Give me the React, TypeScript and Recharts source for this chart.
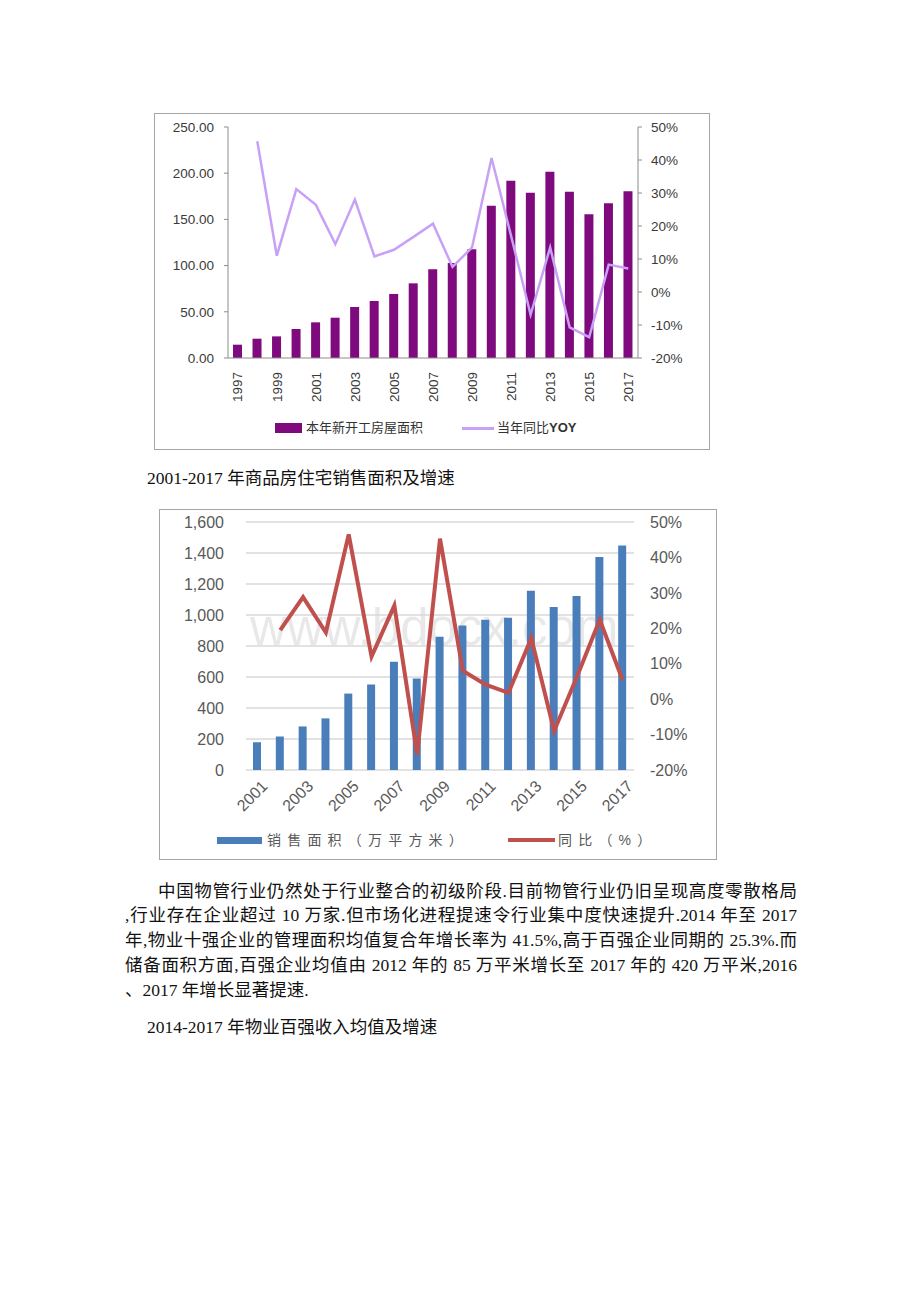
import { ComposedChart, Bar, Line, XAxis, YAxis, CartesianGrid, Legend } from 'recharts';

// chart 1: 本年新开工房屋面积 / 当年同比YOY
const years1 = ['1997', '1998', '1999', '2000', '2001', '2002', '2003', '2004', '2005', '2006', '2007',
  '2008', '2009', '2010', '2011', '2012', '2013', '2014', '2015', '2016', '2017'];
const newStartArea = [14.4, 20.9, 23.4, 31.4, 38.6, 43.6, 55.2, 61.7, 69.3, 80.8, 96.0,
  102.8, 117.6, 164.9, 191.9, 178.9, 201.7, 180.0, 155.5, 167.4, 180.4];
const newStartYoy = [null, 45.7, 11.0, 31.2, 26.4, 14.5, 28.0, 10.8, 12.8, 16.7, 20.7,
  7.6, 13.5, 40.6, 17.0, -6.9, 13.5, -10.7, -13.7, 8.3, 7.1];
const leftTicks1 = [0, 50, 100, 150, 200, 250];
const pctTicks = [-20, -10, 0, 10, 20, 30, 40, 50];

// chart 2: 销售面积（万平方米） / 同比（%）
const years2 = ['2001', '2002', '2003', '2004', '2005', '2006', '2007', '2008', '2009',
  '2010', '2011', '2012', '2013', '2014', '2015', '2016', '2017'];
const salesArea = [179, 216, 281, 333, 493, 551, 698, 590, 860, 932, 969, 982, 1157, 1051, 1122, 1375, 1449];
const salesYoy = [null, 19.5, 28.8, 18.8, 46.5, 12.0, 26.4, -15.6, 45.3, 8.0, 4.1, 1.8, 17.2, -9.0, 6.3, 22.4, 5.4];
const leftTicks2 = [0, 200, 400, 600, 800, 1000, 1200, 1400, 1600];

const data1 = years1.map((y, i) => ({ year: y, area: newStartArea[i], yoy: newStartYoy[i] }));
const data2 = years2.map((y, i) => ({ year: y, area: salesArea[i], yoy: salesYoy[i] }));

const PURPLE = '#7e0a7e';
const LAVENDER = '#c9a0f7';
const BLUE = '#4a7ebb';
const RED = '#c0504d';

const serif = '"Liberation Serif", "Noto Sans CJK SC", serif';
const sans = '"Liberation Sans", Arial, "Noto Sans CJK SC", sans-serif';

const XTick1 = ({ x, y, payload }: any) => {
  const ty = y + 12;
  return (
    <text x={x} y={ty} transform={`rotate(-90 ${x} ${ty})`} textAnchor="end" dy="0.35em"
      fontSize={13.5} fill="#3a3a3a" fontFamily={sans}>{payload.value}</text>
  );
};

const XTick2 = ({ x, y, payload }: any) => {
  const tx = x + 3;
  const ty = y + 7;
  return (
    <text x={tx} y={ty} transform={`rotate(-45 ${tx} ${ty})`} textAnchor="end" dy="0.72em"
      fontSize={16} fill="#595959" fontFamily={sans}>{payload.value}</text>
  );
};

const Legend1 = () => (
  <div style={{ position: 'relative', width: 556, height: 22, fontSize: 13, color: '#333', fontFamily: serif }}>
    <div style={{ position: 'absolute', left: 121, top: 6, width: 27, height: 10, background: PURPLE }} />
    <div style={{ position: 'absolute', left: 152, top: 2, lineHeight: '18px' }}>本年新开工房屋面积</div>
    <div style={{ position: 'absolute', left: 308, top: 10, width: 32, height: 3, background: LAVENDER }} />
    <div style={{ position: 'absolute', left: 343, top: 2, lineHeight: '18px' }}>当年同比<span style={{ fontFamily: sans, fontWeight: 'bold' }}>YOY</span></div>
  </div>
);

const Legend2 = () => (
  <div style={{ position: 'relative', width: 558, height: 22, fontSize: 14, color: '#595959', fontFamily: sans, letterSpacing: 6.2 }}>
    <div style={{ position: 'absolute', left: 58, top: 8, width: 45, height: 7, background: BLUE }} />
    <div style={{ position: 'absolute', left: 108, top: 2, lineHeight: '18px', whiteSpace: 'nowrap' }}>销售面积（万平方米）</div>
    <div style={{ position: 'absolute', left: 349, top: 9, width: 47, height: 4, background: RED }} />
    <div style={{ position: 'absolute', left: 399, top: 2, lineHeight: '18px', whiteSpace: 'nowrap' }}>同比（%）</div>
  </div>
);

const para = [
  '中国物管行业仍然处于行业整合的初级阶段.目前物管行业仍旧呈现高度零散格局',
  ',行业存在企业超过 10 万家.但市场化进程提速令行业集中度快速提升.2014 年至 2017',
  '年,物业十强企业的管理面积均值复合年增长率为 41.5%,高于百强企业同期的 25.3%.而',
  '储备面积方面,百强企业均值由 2012 年的 85 万平米增长至 2017 年的 420 万平米,2016',
  '、2017 年增长显著提速.',
];
const paraTops = [879, 903, 928, 953, 978];

export default function App() {
  const textStyle = { position: 'absolute' as const, fontFamily: serif, fontSize: 17.5, color: '#111', lineHeight: '24px' };
  return (
    <div style={{ position: 'absolute', left: 0, top: 0, width: 920, height: 1302, background: '#fff' }}>
      {/* chart 1 */}
      <div style={{ position: 'absolute', left: 154, top: 113, width: 556, height: 337, border: '1px solid #a6a6a6', boxSizing: 'border-box' }} />
      <div style={{ position: 'absolute', left: 154, top: 113 }}>
        <ComposedChart width={556} height={337} data={data1} margin={{ top: 14, right: 0, left: 0, bottom: 11 }}>
          <XAxis dataKey="year" interval={1} height={59} tick={<XTick1 />} tickLine={false} tickSize={0}
            axisLine={{ stroke: '#8c8c8c' }} />
          <YAxis yAxisId="left" width={74} domain={[0, 250]} ticks={leftTicks1} tickFormatter={(v: number) => v.toFixed(2)}
            axisLine={{ stroke: '#8c8c8c' }} tickLine={{ stroke: '#8c8c8c' }} tickSize={4} tickMargin={10}
            tick={{ fontSize: 13.5, fill: '#3a3a3a', fontFamily: sans }} />
          <YAxis yAxisId="right" orientation="right" width={72} domain={[-20, 50]} ticks={pctTicks}
            tickFormatter={(v: number) => `${v}%`}
            axisLine={{ stroke: '#8c8c8c' }} tickLine={{ stroke: '#8c8c8c' }} tickSize={4} tickMargin={9}
            tick={{ fontSize: 13.5, fill: '#3a3a3a', fontFamily: sans }} />
          <Legend verticalAlign="bottom" content={<Legend1 />} />
          <Bar yAxisId="left" dataKey="area" fill={PURPLE} barSize={9} isAnimationActive={false} />
          <Line yAxisId="right" dataKey="yoy" stroke={LAVENDER} strokeWidth={2.5} dot={false}
            strokeLinejoin="miter" isAnimationActive={false} />
        </ComposedChart>
      </div>

      <div style={{ ...textStyle, left: 147, top: 466 }}>2001-2017 年商品房住宅销售面积及增速</div>

      {/* chart 2 */}
      <div style={{ position: 'absolute', left: 159, top: 509, width: 558, height: 351, border: '1px solid #a6a6a6', boxSizing: 'border-box' }} />
      <div style={{ position: 'absolute', left: 250, top: 598, fontFamily: sans, fontSize: 51, lineHeight: '60px', color: 'rgba(0,0,0,0.09)', whiteSpace: 'nowrap' }}>
        www.bdocx.com
      </div>
      <div style={{ position: 'absolute', left: 159, top: 509 }}>
        <ComposedChart width={558} height={351} data={data2} margin={{ top: 13, right: 0, left: 0, bottom: 9 }}>
          <CartesianGrid yAxisId="left" vertical={false} stroke="#d9d9d9" strokeWidth={1.5} />
          <XAxis dataKey="year" interval={1} height={59} tick={<XTick2 />} tickLine={false} tickSize={0} axisLine={false} />
          <YAxis yAxisId="left" width={87} domain={[0, 1600]} ticks={leftTicks2}
            tickFormatter={(v: number) => v.toLocaleString('en-US')}
            axisLine={false} tickLine={false} tickSize={0} tickMargin={22}
            tick={{ fontSize: 16, fill: '#595959', fontFamily: sans }} />
          <YAxis yAxisId="right" orientation="right" width={83} domain={[-20, 50]} ticks={pctTicks}
            tickFormatter={(v: number) => `${v}%`}
            axisLine={false} tickLine={false} tickSize={0} tickMargin={16}
            tick={{ fontSize: 16, fill: '#595959', fontFamily: sans }} />
          <Legend verticalAlign="bottom" content={<Legend2 />} />
          <Bar yAxisId="left" dataKey="area" fill={BLUE} barSize={8} isAnimationActive={false} />
          <Line yAxisId="right" dataKey="yoy" stroke={RED} strokeWidth={4} dot={false}
            strokeLinejoin="miter" isAnimationActive={false} />
        </ComposedChart>
      </div>

      {/* body text */}
      {para.map((line, i) => (
        <div key={i} style={{
          ...textStyle,
          left: i === 0 ? 158 : 125,
          top: paraTops[i],
          width: i === 0 ? 639 : 672,
          textAlign: i === 4 ? 'left' : 'justify',
          textAlignLast: i === 4 ? 'left' : 'justify',
        }}>{line}</div>
      ))}

      <div style={{ ...textStyle, left: 147, top: 1015 }}>2014-2017 年物业百强收入均值及增速</div>
    </div>
  );
}
